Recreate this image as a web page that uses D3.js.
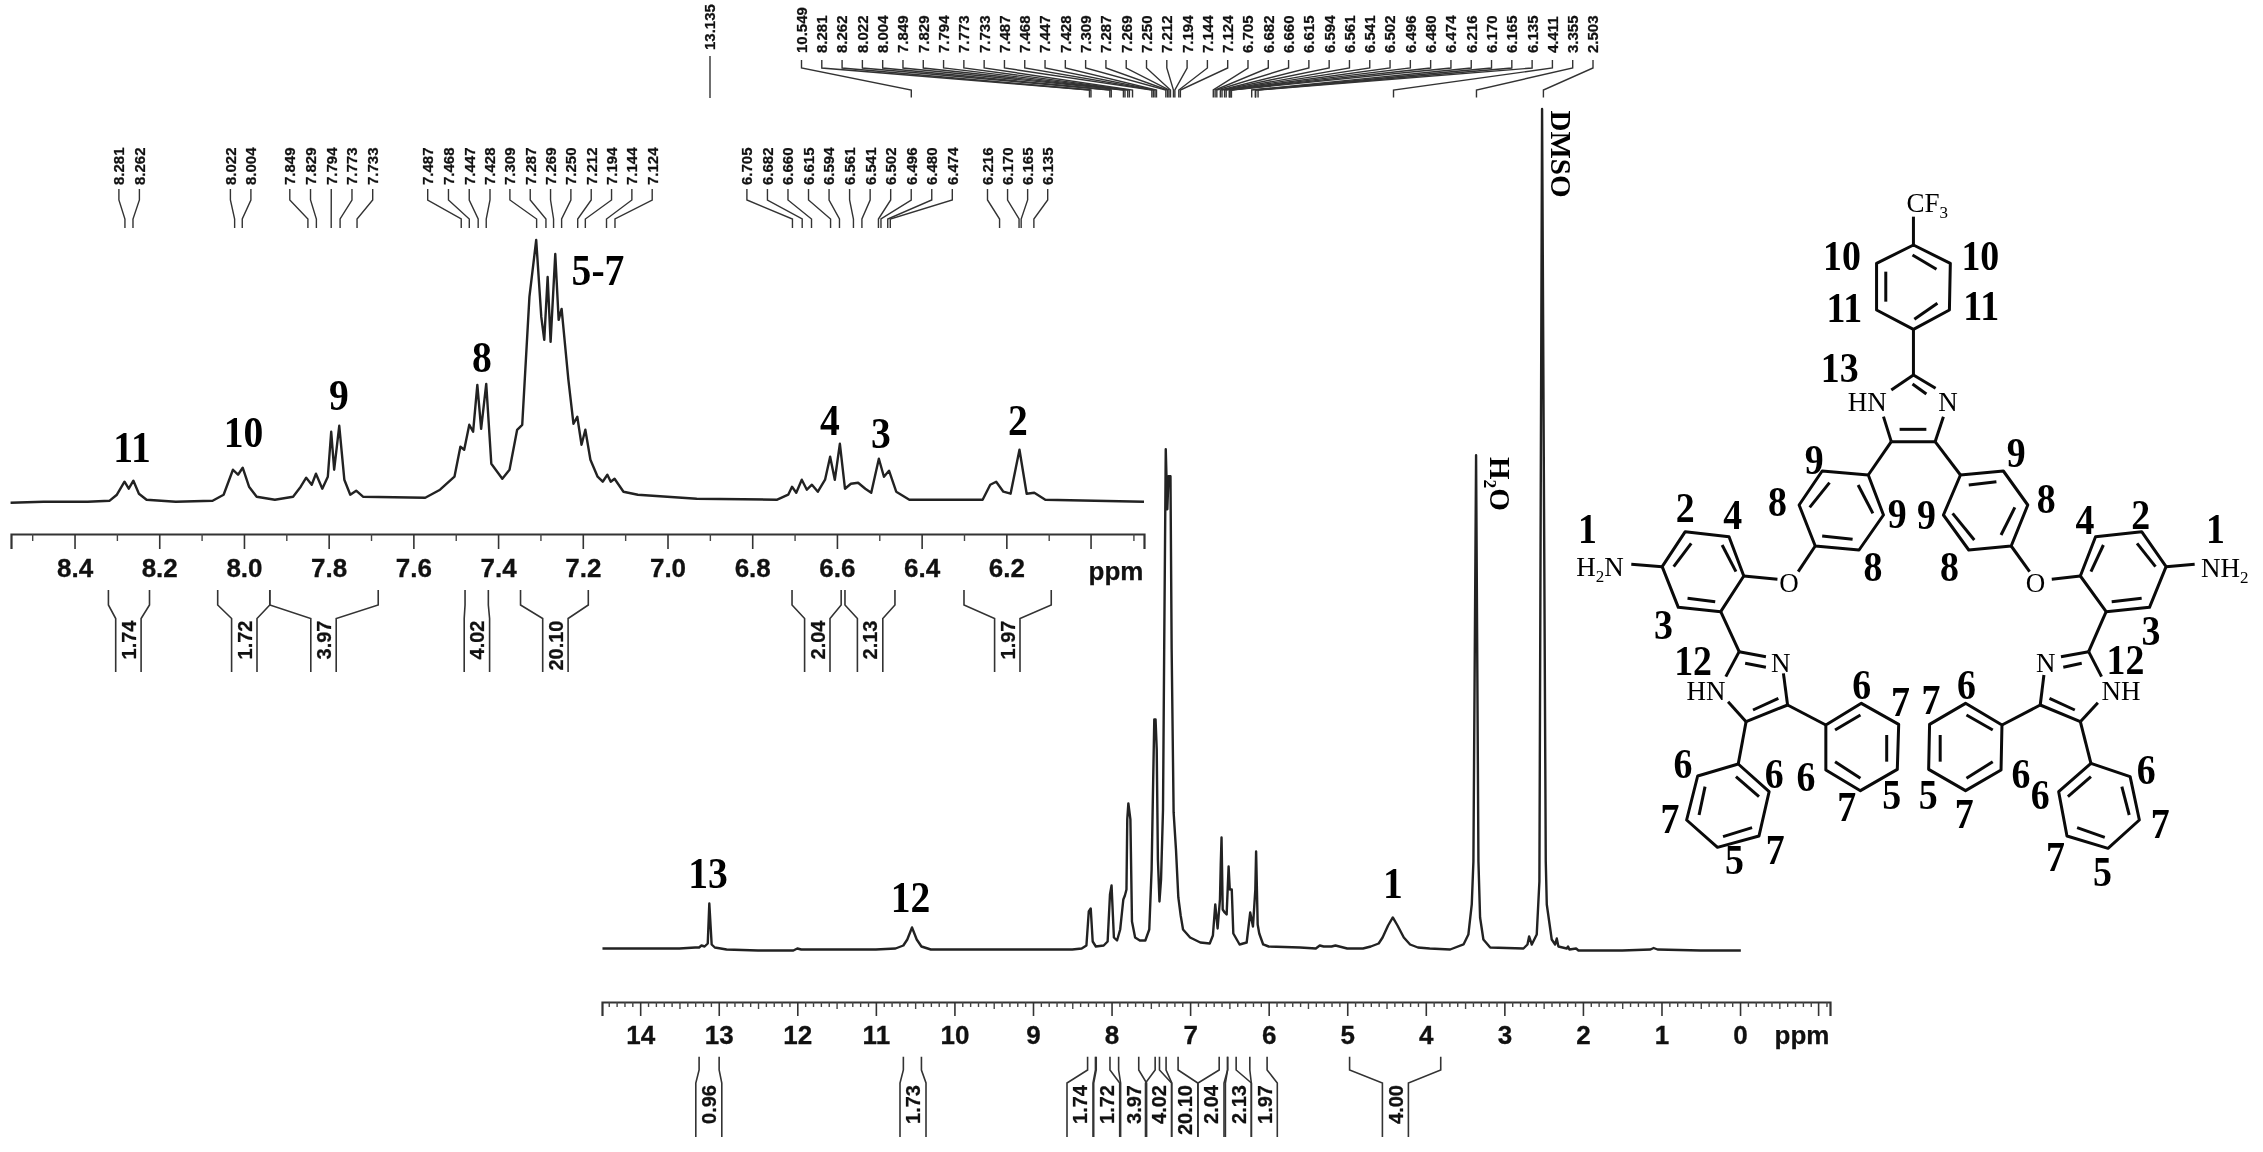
<!DOCTYPE html>
<html><head><meta charset="utf-8">
<script src="https://cdn.jsdelivr.net/npm/d3@7/dist/d3.min.js"></script>
<style>
html,body{margin:0;padding:0;background:#fff}
svg{display:block;filter:blur(0.6px)}
.sans{font-family:"Liberation Sans",Arial,sans-serif;font-weight:700;fill:#111;stroke:#111;stroke-width:.25px}
.serif{font-family:"Liberation Serif","Times New Roman",serif;fill:#000}
.tick text{font-family:"Liberation Sans",Arial,sans-serif;font-weight:700;font-size:26px;fill:#111;stroke:#111;stroke-width:.3px}
</style></head><body>
<script>
// ---------- DATA ----------
const mainPpm=[14.48,14,13.5,13.3,13.25,13.22,13.18,13.14,13.12,13.09,13.05,12.9,12.5,12.05,12,11.95,11.5,11,10.75,10.65,10.6,10.54,10.48,10.42,10.3,9.8,9,8.5,8.38,8.32,8.29,8.265,8.24,8.2,8.1,8.05,8.02,8,7.97,7.93,7.89,7.85,7.83,7.81,7.8,7.786,7.76,7.74,7.7,7.64,7.57,7.52,7.49,7.47,7.456,7.44,7.425,7.41,7.39,7.37,7.345,7.33,7.31,7.29,7.275,7.25,7.235,7.21,7.18,7.15,7.12,7.09,7,6.87,6.75,6.71,6.68,6.65,6.62,6.61,6.6,6.585,6.56,6.535,6.51,6.495,6.47,6.45,6.37,6.28,6.235,6.2,6.17,6.16,6.14,6.12,6.07,6,5.6,5.4,5.35,5.3,5.2,5.15,5,4.8,4.7,4.6,4.55,4.48,4.42,4.36,4.28,4.2,4.1,3.95,3.69,3.52,3.458,3.415,3.394,3.36,3.33,3.309,3.267,3.18,2.757,2.706,2.685,2.651,2.588,2.554,2.52,2.473,2.46,2.397,2.354,2.333,2.312,2.206,2.189,2.172,2.087,2.057,1.5,1.14,1.1,1.05,0.5,-0.01];
const mainInt=[1,1,1,2,2,4,3,6,46,5,2,0,-1,-1,1,0,0,0,1,4,10,22,10,3,0,0,0,0,1,4,38,41,8,3,4,8,55,64,12,9,20,50,54,60,130,146,130,28,12,9,9,20,80,170,230,230,200,90,48,70,140,300,500,440,473,473,300,137,100,52,34,20,12,7,6,14,45,21,50,85,112,40,37,35,83,60,60,16,5,7,37,23,60,98,25,16,5,3,2,1,4,3,3,4,1,1,3,6,12,24,32,24,12,5,2,1,0,5,15,45,88,494,88,32,10,2,1,5,13,5,15,68,840,88,45,10,5,11,3,1,3,0,1,-1,-1,0,1.5,0,-1,-1];
const insetPpm=[8.551,8.473,8.369,8.317,8.3,8.282,8.272,8.261,8.248,8.23,8.161,8.074,8.048,8.026,8.014,8.003,7.988,7.97,7.927,7.884,7.866,7.853,7.84,7.83,7.815,7.802,7.794,7.787,7.775,7.763,7.749,7.735,7.719,7.572,7.537,7.503,7.489,7.48,7.468,7.459,7.449,7.44,7.428,7.416,7.39,7.373,7.355,7.343,7.326,7.31,7.298,7.291,7.283,7.276,7.265,7.257,7.25,7.234,7.222,7.213,7.203,7.194,7.182,7.165,7.153,7.142,7.134,7.125,7.104,7.07,6.931,6.741,6.715,6.706,6.696,6.683,6.671,6.659,6.645,6.628,6.616,6.605,6.593,6.581,6.567,6.55,6.533,6.519,6.501,6.489,6.477,6.46,6.429,6.256,6.238,6.224,6.207,6.19,6.169,6.152,6.134,6.108,5.875];
const insetInt=[-2,-1,-1,0,6,19,12,20,7,1,-1,0,6,31,26,33,14,4,1,4,14,23,16,27,12,24,69,31,75,21,6,10,4,3,11,24,54,51,76,69,116,72,117,37,22,31,71,76,204,261,184,161,224,159,247,181,192,121,77,84,56,71,41,24,19,26,19,22,9,6,2,1,6,14,8,21,11,16,9,21,44,21,57,12,17,18,12,8,42,24,30,9,1,1,16,19,9,7,51,7,8,1,-1];
const mainTicks=[14,13,12,11,10,9,8,7,6,5,4,3,2,1,0];
const insetTicks=[8.4,8.2,8.0,7.8,7.6,7.4,7.2,7.0,6.8,6.6,6.4,6.2];
const topLabels=["10.549","8.281","8.262","8.022","8.004","7.849","7.829","7.794","7.773","7.733","7.487","7.468","7.447","7.428","7.309","7.287","7.269","7.250","7.212","7.194","7.144","7.124","6.705","6.682","6.660","6.615","6.594","6.561","6.541","6.502","6.496","6.480","6.474","6.216","6.170","6.165","6.135","4.411","3.355","2.503"];
const insetLabelGroups=[["8.281","8.262"],["8.022","8.004"],["7.849","7.829","7.794","7.773","7.733"],["7.487","7.468","7.447","7.428"],["7.309","7.287","7.269","7.250","7.212","7.194","7.144","7.124"],["6.705","6.682","6.660","6.615","6.594","6.561","6.541","6.502","6.496","6.480","6.474"],["6.216","6.170","6.165","6.135"]];
const insetIntegralLabels=["1.74","1.72","3.97","4.02","20.10","2.04","2.13","1.97"];
const insetIntegralFrom=[8.32,8.062,7.939,7.478,7.347,6.706,6.581,6.30];
const insetIntegralTo=[8.223,7.939,7.683,7.423,7.187,6.59,6.463,6.094];
const mainIntegralLabels=["0.96","1.73","1.74","1.72","3.97","4.02","20.10","2.04","2.13","1.97","4.00"];
const mainIntegralFrom=[13.25,10.65,8.305,8.195,7.91,7.445,7.306,6.63,6.523,6.24,4.97];
const mainIntegralTo=[12.995,10.42,8.205,8.02,7.654,7.39,7.153,6.523,6.414,6.02,3.81];
const insetPeakLabels=["11","10","9","8","5-7","4","3","2"];
const mainPeakLabels=["13","12","1"];

// ---------- LAYOUT ----------
const W=2263,H=1152;
const svg=d3.select("body").append("svg").attr("width",W).attr("height",H).attr("viewBox",`0 0 ${W} ${H}`);
const xMain=d3.scaleLinear().domain([14.486,-1.145]).range([602,1830]);
const yMain=d3.scaleLinear().domain([0,840]).range([949.5,109]);
const xInset=d3.scaleLinear().domain([8.55,5.875]).range([11,1144]);
const yInset=d3.scaleLinear().domain([0,261]).range([500.7,240]);
const ink="#222";

function trace(xs,ys,x,y,w){
  const pts=d3.zip(xs,ys);
  svg.append("path").datum(pts).attr("fill","none").attr("stroke",ink).attr("stroke-width",w).attr("stroke-linejoin","round")
    .attr("d",d3.line().x(d=>x(d[0])).y(d=>y(d[1])));
}
trace(insetPpm,insetInt,xInset,yInset,2.4);
trace(mainPpm,mainInt,xMain,yMain,2.4);

function axis(x,y0,major,fmt,minorVals,midVals,len,minLen,midLen,pad){
  const g=svg.append("g").attr("transform",`translate(0,${y0})`);
  const a=g.append("g").call(d3.axisBottom(x).tickValues(major).tickSize(len).tickPadding(pad).tickFormat(d3.format(fmt)));
  a.selectAll("path").attr("stroke","#333").attr("stroke-width",2.2);
  a.selectAll("line").attr("stroke","#333").attr("stroke-width",1.6);
  const m=g.append("g").call(d3.axisBottom(x).tickValues(minorVals).tickSize(minLen).tickFormat(""));
  m.selectAll("path").remove();m.selectAll("line").attr("stroke","#444").attr("stroke-width",1.4);
  if(midVals.length){const c=g.append("g").call(d3.axisBottom(x).tickValues(midVals).tickSize(midLen).tickFormat(""));
    c.selectAll("path").remove();c.selectAll("line").attr("stroke","#444").attr("stroke-width",1.4);}
}
const mainMinor=d3.range(-11,145).map(i=>i/10).filter(v=>Math.abs(v*2-Math.round(v*2))>1e-6);
const mainMid=d3.range(-2,29).map(i=>i/2).filter(v=>v%1!==0);
axis(xMain,1002,mainTicks,"d",mainMinor,mainMid,14,5,7,10);
axis(xInset,534,insetTicks,".1f",d3.range(59,86,2).map(i=>i/10),[],15,7,7,10);
// unlabelled end ticks beyond the last number
svg.append("line").attr("x1",xMain(-1)).attr("x2",xMain(-1)).attr("y1",1002).attr("y2",1016).attr("stroke","#333").attr("stroke-width",1.6);
svg.append("line").attr("x1",xInset(6)).attr("x2",xInset(6)).attr("y1",534).attr("y2",549).attr("stroke","#333").attr("stroke-width",1.6);
[[1116,572],[1802,1036]].forEach(d=>svg.append("text").attr("class","sans").attr("x",d[0]).attr("y",d[1]).attr("dy",".32em").attr("text-anchor","middle").attr("font-size",26).text("ppm"));

// peak-pick labels and leaders
function vlabel(x,y,s,fs,w){
  svg.append("text").attr("class","sans").attr("transform",`translate(${x},${y}) rotate(-90)`).attr("dy",".36em").attr("font-size",fs).attr("text-anchor",w||"start").text(s);
}
const leader=d3.line();
function pick(lx,px,y0,y1,y2,y3){
  svg.append("path").attr("fill","none").attr("stroke","#333").attr("stroke-width",1.4).attr("d",leader([[lx,y0],[lx,y1],[px,y2],[px,y3]]));
}
const topSlot=d3.scalePoint().domain(topLabels).range([801.5,1593]);
topLabels.forEach(s=>{
  vlabel(topSlot(s),53,s,15);
  pick(topSlot(s),xMain(+s),60,68,90,97.5);
});
vlabel(710,50,"13.135",15);
svg.append("line").attr("x1",710).attr("x2",710).attr("y1",56).attr("y2",98).attr("stroke","#333").attr("stroke-width",1.4);

const insetGroupStart=[118.9,230.4,289.8,427.7,509.9,746.9,987.5];
const insetGroupEnd=[139.4,250.9,372.7,490,652.2,952.3,1047.7];
insetLabelGroups.forEach((grp,i)=>{
  const s=d3.scalePoint().domain(grp).range([insetGroupStart[i],insetGroupEnd[i]]);
  grp.forEach(v=>{
    vlabel(s(v),185,v,15);
    pick(s(v),xInset(+v),189,200,219,228);
  });
});

// integrals
function integral(label,xa,xb,cx,half,yT,yE,yI,yB){
  const p=[[xa,yT],[xa,yE],[cx-half,yI],[cx-half,yB]],q=[[xb,yT],[xb,yE],[cx+half,yI],[cx+half,yB]];
  [p,q].forEach(d=>svg.append("path").attr("fill","none").attr("stroke","#333").attr("stroke-width",1.6).attr("d",leader(d)));
  vlabel(cx,yI+2,label,20,"end");
}
const insetCenters=[128.4,244.3,323.5,476.9,555.4,817.3,870.1,1007.3];
insetIntegralLabels.forEach((s,i)=>integral(s,xInset(insetIntegralFrom[i]),xInset(insetIntegralTo[i]),insetCenters[i],12.7,590,605,618.5,672));
const mainCenters=[708.8,913,1080,1106.7,1133.6,1158.5,1184.8,1211,1238.4,1264.3,1395.4];
mainIntegralLabels.forEach((s,i)=>integral(s,xMain(mainIntegralFrom[i]),xMain(mainIntegralTo[i]),mainCenters[i],13,1056.7,1070,1083,1137));

// numbered assignments (condensed bold serif)
function num(x,y,s,fs){
  svg.append("text").attr("class","serif").attr("font-weight",700).attr("transform",`translate(${x},${y}) scale(.88,1)`).attr("dy",".33em").attr("text-anchor","middle").attr("font-size",fs).text(s);
}
const insetPeakX=[132,243.6,339,482,598,830,881,1018],insetPeakY=[447,432,395,357,270,420,433,420];
insetPeakLabels.forEach((s,i)=>num(insetPeakX[i],insetPeakY[i],s,45));
const mainPeakX=[708,910.6,1393],mainPeakY=[873,897,883];
mainPeakLabels.forEach((s,i)=>num(mainPeakX[i],mainPeakY[i],s,45));
function rot(x,y,fs,s){svg.append("text").attr("class","serif").attr("font-weight",700).attr("transform",`translate(${x},${y}) rotate(90)`).attr("dy",".33em").attr("font-size",fs).text(s);}
rot(1500,457,29,"H\u2082O");
rot(1561,110.5,29,"DMSO");

// ---------- STRUCTURE ----------
const sx=d=>1540+d/2.169, sy=d=>170+d/3;
const rings=[
[[810,225],[890,280],[888,420],[810,478],[730,420],[730,280]],
[[712,915],[612,903],[562,1005],[597,1128],[692,1140],[745,1035]],
[[912,915],[1005,903],[1058,1005],[1022,1128],[930,1140],[875,1035]],
[[442,1218],[410,1100],[315,1085],[265,1190],[300,1312],[392,1325]],
[[1172,1218],[1205,1100],[1305,1085],[1358,1190],[1322,1312],[1228,1325]],
[[430,1782],[342,1818],[318,1950],[385,2032],[475,1998],[497,1865]],
[[620,1665],[697,1600],[778,1663],[775,1798],[695,1862],[620,1800]],
[[1195,1780],[1280,1820],[1300,1950],[1232,2035],[1143,1998],[1125,1865]],
[[1002,1665],[923,1600],[845,1663],[843,1798],[923,1862],[1000,1800]]];
const bonds=[
[810,140,810,225],[810,478,810,615],[810,615,762,660],[810,615,858,655],[808,642,838,672],
[875,740,857,815],[745,740,762,815],[762,815,857,815],[780,778,838,778],
[762,815,712,915],[857,815,912,915],
[808,255,860,298],[750,305,750,395],[812,448,862,400],
[690,945,722,1030],[628,938,585,1012],[612,1098,678,1108],
[930,945,990,935],[1030,1012,1000,1095],[895,1030,942,1110],
[597,1128,560,1205],[515,1228,442,1218],[395,1125,425,1205],[328,1120,290,1190],[320,1285,380,1295],[198,1183,265,1190],
[1022,1128,1062,1205],[1110,1228,1172,1218],[1358,1190,1420,1183],[1195,1205,1222,1125],[1295,1120,1335,1190],[1240,1295,1305,1285],
[392,1325,432,1445],[432,1445,490,1460],[445,1480,490,1492],[432,1445,403,1520],[408,1595,447,1655],[447,1655,537,1605],[462,1620,517,1585],[537,1605,528,1510],
[447,1655,430,1782],[425,1820,475,1880],[358,1850,345,1935],[397,2000,460,1973],
[537,1605,620,1665],[640,1680,695,1635],[752,1695,752,1775],[640,1775,695,1825],
[1228,1325,1190,1445],[1190,1445,1130,1460],[1135,1492,1175,1480],[1190,1445,1218,1520],[1210,1598,1172,1655],[1172,1655,1085,1605],[1105,1585,1160,1620],[1085,1605,1093,1515],
[1172,1655,1195,1780],[1195,1820,1145,1880],[1262,1850,1278,1935],[1165,1973,1225,2002],
[1085,1605,1002,1665],[982,1680,925,1635],[868,1695,868,1775],[925,1825,982,1775]];
const struct=svg.append("g").attr("stroke","#0a0a0a").attr("stroke-width",3).attr("fill","none").attr("stroke-linejoin","round");
rings.forEach(r=>struct.append("path").attr("d",d3.line().x(d=>sx(d[0])).y(d=>sy(d[1])).curve(d3.curveLinearClosed)(r)));
bonds.forEach(b=>struct.append("line").attr("x1",sx(b[0])).attr("y1",sy(b[1])).attr("x2",sx(b[2])).attr("y2",sy(b[3])));
const numLabels=[["10",655,258],["10",955,258],["11",660,412],["11",957,408],["13",650,593],["9",595,868],["9",1033,848],["8",515,995],["8",1098,985],["9",775,1032],["9",838,1035],["2",315,1013],["2",1303,1035],["4",418,1035],["4",1182,1050],["1",103,1075],["1",1465,1075],["8",722,1190],["8",888,1190],["3",268,1363],["3",1325,1383],["12",332,1472],["12",1270,1470],
["6",698,1545],["7",782,1595],["6",310,1782],["6",508,1810],["6",577,1820],["7",282,1945],["7",665,1910],["5",763,1875],["7",510,2040],["5",422,2070],["7",848,1590],["6",925,1545],["5",842,1875],["7",920,1930],["6",1043,1810],["6",1085,1875],["6",1315,1798],["7",1345,1960],["7",1118,2060],["5",1220,2105]];
numLabels.forEach(d=>num(sx(d[1]),sy(d[2]),d[0],43));
const atoms=[[["CF",""],["3","s"],840,100],[["HN",""],710,695],[["N",""],885,695],[["O",""],540,1240],[["O",""],1075,1240],[["H",""],["2","s"],["N",""],130,1190],[["N",""],["H",""],["2","s"],1485,1195],[["N",""],522,1480],[["HN",""],360,1562],[["N",""],1097,1480],[["NH",""],1260,1562]];
atoms.forEach(a=>{
  const y=a[a.length-1],x=a[a.length-2],parts=a.slice(0,-2);
  const t=svg.append("text").attr("class","serif").attr("x",sx(x)).attr("y",sy(y)).attr("dy",".33em").attr("text-anchor","middle").attr("font-size",27);
  let down=false;
  parts.forEach(p=>{const sp=t.append("tspan").text(p[0]);
    if(p[1]==="s"){sp.attr("font-size",17).attr("dy",6);down=true;}
    else if(down){sp.attr("dy",-6);down=false;}});
});
</script>
</body></html>
